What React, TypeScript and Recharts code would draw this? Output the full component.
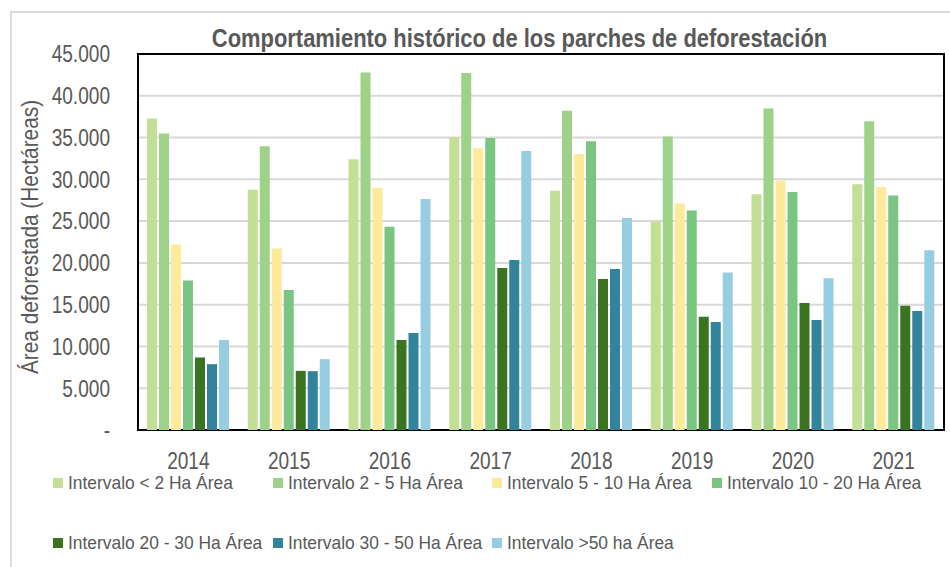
import React from 'react';
import { BarChart, Bar, XAxis, YAxis, CartesianGrid, Legend, ReferenceArea } from 'recharts';

const years = ['2014', '2015', '2016', '2017', '2018', '2019', '2020', '2021'];
const seriesNames = [
  'Intervalo < 2 Ha Área',
  'Intervalo 2 - 5 Ha Área',
  'Intervalo 5 - 10 Ha Área',
  'Intervalo 10 - 20 Ha Área',
  'Intervalo 20 - 30 Ha Área',
  'Intervalo 30 - 50 Ha Área',
  'Intervalo >50 ha Área',
];
const lt2 = [37280, 28760, 32400, 35040, 28640, 24920, 28200, 29400];
const r2to5 = [35480, 33960, 42800, 42720, 38200, 35120, 38480, 36960];
const r5to10 = [22200, 21720, 29000, 33720, 33040, 27120, 29840, 29080];
const r10to20 = [17880, 16760, 24320, 34960, 34560, 26280, 28480, 28080];
const r20to30 = [8680, 7080, 10760, 19400, 18080, 13560, 15200, 14880];
const r30to50 = [7880, 7040, 11600, 20360, 19280, 12920, 13160, 14240];
const gt50 = [10760, 8480, 27640, 33400, 25360, 18840, 18160, 21520];
const seriesValues = [lt2, r2to5, r5to10, r10to20, r20to30, r30to50, gt50];
const colors = ['#c3de95', '#9ed288', '#fdeb9b', '#7ac581', '#3b7420', '#31849c', '#97cde0'];
const yTicks = [0, 5000, 10000, 15000, 20000, 25000, 30000, 35000, 40000, 45000];
const title = 'Comportamiento histórico de los parches de deforestación';
const yLabel = 'Área deforestada (Hectáreas)';

const data = years.map((y, i) => {
  const row: Record<string, any> = { year: y };
  seriesValues.forEach((s, k) => {
    row['s' + k] = s[i];
  });
  return row;
});

const FONT = "'Liberation Sans', Arial, sans-serif";
const TEXT = '#595959';

const fmt = (v: number) => (v === 0 ? '-' : v.toLocaleString('de-DE'));

const YTick = (props: any) => {
  const { x, y, payload } = props;
  return (
    <g transform={`translate(${x},${y}) scale(0.83,1)`}>
      <text x={0} y={0} dy="0.36em" textAnchor="end" fill={TEXT} fontFamily={FONT} fontSize={23}>
        {fmt(payload.value)}
      </text>
    </g>
  );
};

const XTick = (props: any) => {
  const { x, y, payload } = props;
  return (
    <g transform={`translate(${x},${y}) scale(0.83,1)`}>
      <text x={0} y={0} dy="0.71em" textAnchor="middle" fill={TEXT} fontFamily={FONT} fontSize={23}>
        {payload.value}
      </text>
    </g>
  );
};

const renderLegend = () => (
  <div style={{ position: 'relative', width: 950, height: 0 }}>
    {seriesNames.map((name, i) => {
      const row = i < 4 ? 0 : 1;
      const col = i < 4 ? i : i - 4;
      return (
        <div
          key={name}
          style={{
            position: 'absolute',
            left: 53 + col * 219.6,
            top: 473 + row * 59.5,
            height: 20,
            display: 'flex',
            alignItems: 'center',
            whiteSpace: 'nowrap',
            fontFamily: FONT,
            fontSize: 18.5,
            color: TEXT,
          }}
        >
          <span style={{ display: 'inline-block', width: 10, height: 10, background: colors[i], marginRight: 5 }} />
          <span style={{ display: 'inline-block', transform: 'scaleX(0.94)', transformOrigin: 'left center' }}>{name}</span>
        </div>
      );
    })}
  </div>
);

const YLabel = (props: any) => {
  const vb = props.viewBox || { y: 54, height: 376 };
  const cx = 29;
  const cy = vb.y + vb.height / 2 - 5;
  return (
    <g transform={`translate(${cx},${cy}) rotate(-90) scale(0.85,1)`}>
      <text x={0} y={0} textAnchor="middle" dominantBaseline="central" fill={TEXT} fontFamily={FONT} fontSize={24.5}>
        {yLabel}
      </text>
    </g>
  );
};

export default function App() {
  return (
    <div style={{ position: 'absolute', left: 0, top: 0, width: 950, height: 567, background: '#fff', overflow: 'hidden' }}>
      <div
        style={{
          position: 'absolute',
          left: 10,
          top: 11,
          width: 960,
          height: 570,
          borderLeft: '2px solid #dcdcdc',
          borderTop: '2px solid #dcdcdc',
          boxSizing: 'border-box',
        }}
      />
      <div
        style={{
          position: 'absolute',
          left: 89,
          top: 24,
          width: 861,
          textAlign: 'center',
          fontFamily: FONT,
          fontWeight: 'bold',
          fontSize: 25.5,
          lineHeight: '28px',
          color: TEXT,
          whiteSpace: 'nowrap',
          transform: 'scaleX(0.86)',
          transformOrigin: '430.5px 50%',
        }}
      >
        {title}
      </div>
      <div style={{ position: 'absolute', left: 0, top: 0 }}>
        <BarChart
          width={950}
          height={567}
          data={data}
          margin={{ top: 54, right: 6, bottom: 107, left: 0 }}
          barGap={2}
        >
          <CartesianGrid vertical={false} stroke="#d9d9d9" strokeWidth={2} />
          <XAxis
            dataKey="year"
            axisLine={false}
            tickLine={false}
            tickSize={0}
            tickMargin={23}
            height={30}
            tick={<XTick />}
          />
          <YAxis
            width={138}
            domain={[0, 45000]}
            ticks={yTicks}
            interval={0}
            axisLine={false}
            tickLine={false}
            tickSize={0}
            tickMargin={28}
            tick={<YTick />}
            label={<YLabel />}
          />
          {seriesNames.map((name, i) => (
            <Bar
              key={name}
              dataKey={'s' + i}
              name={name}
              fill={colors[i]}
              barSize={10}
              isAnimationActive={false}
            />
          ))}
          <ReferenceArea y1={0} y2={45000} fill="none" fillOpacity={0} stroke="#000" strokeWidth={2} ifOverflow="visible" />
          <Legend
            content={renderLegend}
            wrapperStyle={{ position: 'absolute', left: 0, top: 0, width: 950, height: 0 }}
          />
        </BarChart>
      </div>
    </div>
  );
}
